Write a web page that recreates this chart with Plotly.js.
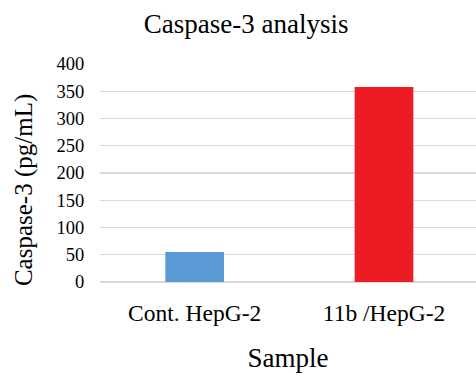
<!DOCTYPE html>
<html>
<head>
<meta charset="utf-8">
<script src="https://cdn.plot.ly/plotly-3.0.1.min.js"></script>
<style>html,body{margin:0;padding:0;background:#fff;}#chart{width:476px;height:375px;}</style>
</head>
<body>
<div id="chart"></div>
<script>
const categories = ["Cont. HepG-2", "11b /HepG-2"];
const values = [55, 358];
const barColors = ["#5b9bd5", "#ed1c24"];
const yTicks = [0, 50, 100, 150, 200, 250, 300, 350, 400];
const chartTitle = "Caspase-3 analysis";
const xTitle = "Sample";
const yTitle = "Caspase-3 (pg/mL)";

const font = "'Liberation Serif', 'Times New Roman', serif";

const data = [{
  type: "bar",
  x: categories,
  y: values,
  width: 0.31,
  marker: {color: barColors, line: {width: 0}},
  hoverinfo: "none"
}];

const layout = {
  width: 476,
  height: 375,
  margin: {l: 100, r: 0, t: 64, b: 93},
  paper_bgcolor: "#ffffff",
  plot_bgcolor: "#ffffff",
  showlegend: false,
  font: {family: font, color: "#000000"},
  title: {
    text: chartTitle,
    font: {family: font, size: 27, color: "#000"},
    x: 0.517, xref: "container", xanchor: "center",
    y: 1 - 24/375, yref: "container", yanchor: "middle"
  },
  xaxis: {
    type: "category",
    range: [-0.5, 1.486],
    showgrid: false,
    zeroline: false,
    showline: false,
    ticks: "outside", ticklen: 10, tickcolor: "rgba(0,0,0,0)",
    tickfont: {family: font, size: 23.5, color: "#000"},
    title: {text: xTitle, font: {family: font, size: 27, color: "#000"}, standoff: 22}
  },
  yaxis: {
    range: [0, 400],
    tickvals: yTicks,
    ticktext: yTicks.map(String),
    showgrid: true,
    gridcolor: "#d9d9d9",
    gridwidth: 1.3,
    zeroline: true,
    zerolinecolor: "#d9d9d9",
    zerolinewidth: 1.3,
    showline: false,
    ticks: "outside", ticklen: 11, tickcolor: "rgba(0,0,0,0)",
    tickfont: {family: font, size: 18.5, color: "#000"}
  },
  annotations: [{
    text: yTitle,
    xref: "paper", yref: "paper",
    x: -0.202, y: 0.422,
    xanchor: "center", yanchor: "middle",
    textangle: -90,
    showarrow: false,
    font: {family: font, size: 25, color: "#000"}
  }]
};

Plotly.newPlot("chart", data, layout, {displayModeBar: false, staticPlot: true});
</script>
</body>
</html>
